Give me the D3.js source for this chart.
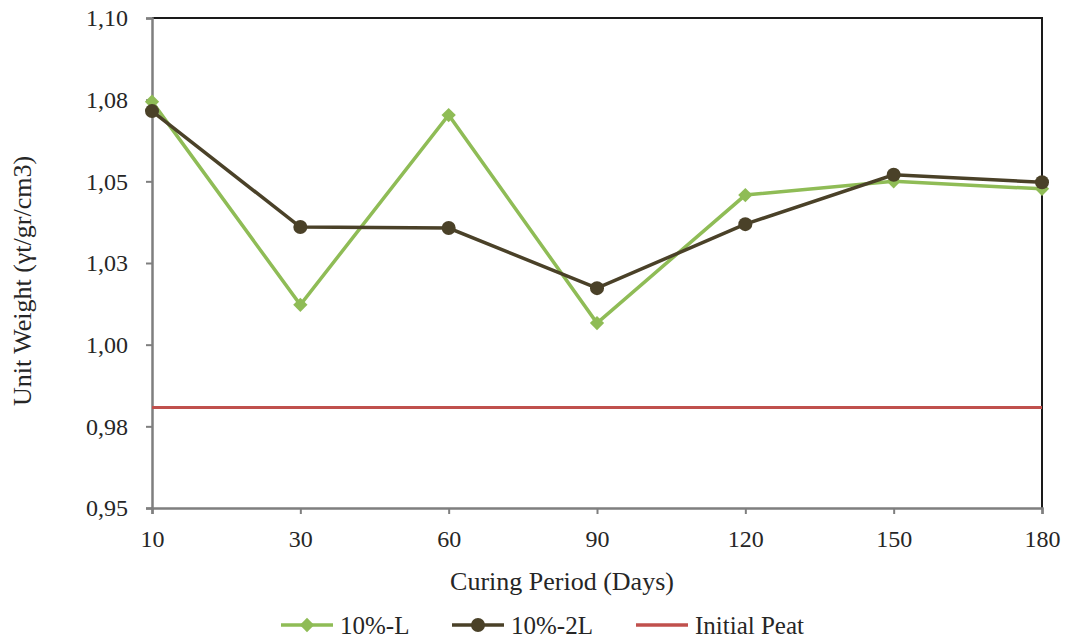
<!DOCTYPE html>
<html>
<head>
<meta charset="utf-8">
<script src="https://cdn.jsdelivr.net/npm/d3@7"></script>
<style>
  html, body { margin: 0; padding: 0; background: #fff; }
  svg { display: block; }
</style>
</head>
<body>
<svg id="chart" width="1068" height="642"></svg>
<script>
// Curing periods (days) on the x axis
const categories = ["10", "30", "60", "90", "120", "150", "180"];
// Unit weight values per curing period
const seriesL  = [1.0744, 1.0122, 1.0703, 1.0066, 1.0458, 1.0500, 1.0477];
const series2L = [1.0715, 1.0360, 1.0357, 1.0173, 1.0369, 1.0520, 1.0497];
// Reference level of the untreated peat
const initialPeat = 0.9808;
// Y tick values and their printed labels
const yTicks = [0.95, 0.975, 1.00, 1.025, 1.05, 1.075, 1.10];
const yTickLabels = ["0,95", "0,98", "1,00", "1,03", "1,05", "1,08", "1,10"];

const FONT = '"Liberation Serif", "Times New Roman", serif';
const TXT = "#262626";

const svg = d3.select("#chart");
const m = { left: 152, right: 1068 - 1042, top: 18, bottom: 642 - 508 };
const W = 1068, H = 642;
const iw = W - m.left - m.right, ih = H - m.top - m.bottom;

const x = d3.scalePoint().domain(categories).range([0, iw]);
const y = d3.scaleLinear().domain([0.95, 1.10]).range([ih, 0]);

const g = svg.append("g").attr("transform", `translate(${m.left},${m.top})`);

// Plot frame: top and right edges
g.append("path")
  .attr("d", `M0,0H${iw}V${ih}`)
  .attr("fill", "none").attr("stroke", "#1a1a1a").attr("stroke-width", 2);

// Y axis
const yAxis = g.append("g")
  .call(d3.axisLeft(y).tickValues(yTicks)
    .tickFormat((d, i) => yTickLabels[i]).tickSize(6).tickPadding(18));
yAxis.select(".domain").attr("stroke", "#7f7f7f").attr("stroke-width", 2.5);
yAxis.selectAll(".tick line").attr("stroke", "#7f7f7f").attr("stroke-width", 2);
yAxis.selectAll(".tick text")
  .style("font-family", FONT).style("font-size", "24px").attr("fill", TXT);

// X axis
const xAxis = g.append("g").attr("transform", `translate(0,${ih})`)
  .call(d3.axisBottom(x).tickSize(6).tickPadding(16));
xAxis.select(".domain").attr("stroke", "#7f7f7f").attr("stroke-width", 2.5);
xAxis.selectAll(".tick line").attr("stroke", "#7f7f7f").attr("stroke-width", 2);
xAxis.selectAll(".tick text")
  .style("font-family", FONT).style("font-size", "24px").attr("fill", TXT);

// Axis titles
svg.append("text")
  .attr("x", 562).attr("y", 590)
  .attr("text-anchor", "middle").attr("fill", TXT)
  .style("font-family", FONT).style("font-size", "26px")
  .text("Curing Period (Days)");
svg.append("text")
  .attr("transform", "translate(31,281) rotate(-90)")
  .attr("text-anchor", "middle").attr("fill", TXT)
  .style("font-family", FONT).style("font-size", "26px")
  .text("Unit Weight (γt/gr/cm3)");

const colL = "#8fbc56", col2L = "#4a4128", colPeat = "#c0504d";

// Initial peat reference line
g.append("line")
  .attr("x1", 0).attr("x2", iw)
  .attr("y1", y(initialPeat)).attr("y2", y(initialPeat))
  .attr("stroke", colPeat).attr("stroke-width", 3);

const line = d3.line().x((d, i) => x(categories[i])).y(d => y(d));

// 10%-L series
g.append("path").datum(seriesL)
  .attr("d", line).attr("fill", "none")
  .attr("stroke", colL).attr("stroke-width", 3.5);
g.selectAll(".mL").data(seriesL).enter().append("path")
  .attr("class", "mL")
  .attr("transform", (d, i) => `translate(${x(categories[i])},${y(d)})`)
  .attr("d", d3.symbol().type(d3.symbolDiamond2).size(130))
  .attr("fill", colL);

// 10%-2L series
g.append("path").datum(series2L)
  .attr("d", line).attr("fill", "none")
  .attr("stroke", col2L).attr("stroke-width", 3.5);
g.selectAll(".m2L").data(series2L).enter().append("circle")
  .attr("class", "m2L")
  .attr("cx", (d, i) => x(categories[i])).attr("cy", d => y(d))
  .attr("r", 7).attr("fill", col2L);

// Legend
const legend = svg.append("g").attr("transform", "translate(0,625)");
const items = [
  { name: "10%-L", color: colL, x0: 281, marker: "diamond" },
  { name: "10%-2L", color: col2L, x0: 452, marker: "circle" },
  { name: "Initial Peat", color: colPeat, x0: 636, marker: null }
];
items.forEach(it => {
  const lg = legend.append("g").attr("transform", `translate(${it.x0},0)`);
  lg.append("line").attr("x1", 0).attr("x2", 52).attr("y1", 0).attr("y2", 0)
    .attr("stroke", it.color).attr("stroke-width", 3.5);
  if (it.marker === "diamond") {
    lg.append("path").attr("transform", "translate(26,0)")
      .attr("d", d3.symbol().type(d3.symbolDiamond2).size(130)).attr("fill", it.color);
  } else if (it.marker === "circle") {
    lg.append("circle").attr("cx", 26).attr("cy", 0).attr("r", 7).attr("fill", it.color);
  }
  lg.append("text").attr("x", 59).attr("y", 9).attr("fill", TXT)
    .style("font-family", FONT).style("font-size", "25px").text(it.name);
});
</script>
</body>
</html>
